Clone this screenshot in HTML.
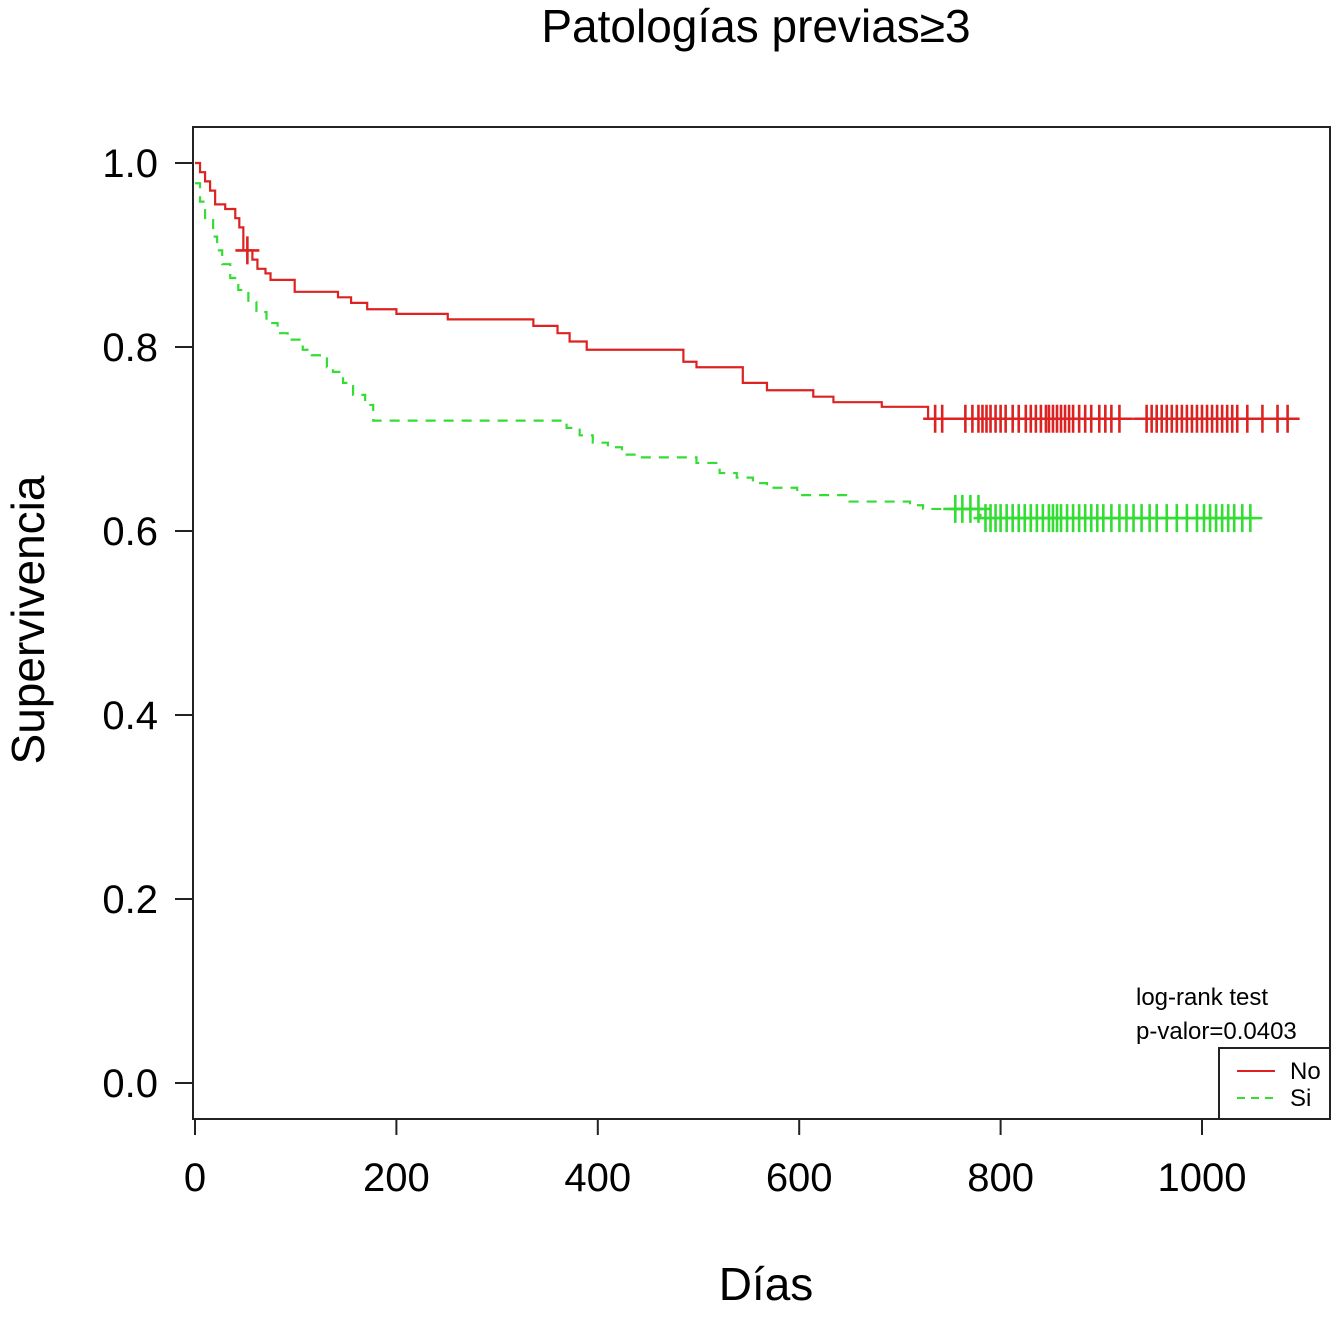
<!DOCTYPE html>
<html><head><meta charset="utf-8"><style>
body{margin:0;background:#fff}
svg text{font-family:"Liberation Sans",sans-serif;fill:#000}
</style></head><body>
<svg id="c" width="1339" height="1312">
<text x="756" y="42" font-size="46" text-anchor="middle">Patologías previas≥3</text>
<rect x="193" y="127" width="1137" height="992" fill="none" stroke="#222" stroke-width="2"/>
<text transform="translate(44,620) rotate(-90)" font-size="46" text-anchor="middle">Supervivencia</text>
<text x="766" y="1300" font-size="46" text-anchor="middle">Días</text>
<g id="axes"></g>
<g id="marks"></g>
<text x="1136" y="1005" font-size="24">log-rank test</text>
<text x="1136" y="1039" font-size="24">p-valor=0.0403</text>
<g>
<rect x="1219" y="1048" width="111" height="71" fill="#fff" stroke="#222" stroke-width="2"/>
<line x1="1237" y1="1071" x2="1275" y2="1071" stroke="#e02020" stroke-width="2"/>
<text x="1290" y="1079" font-size="24">No</text>
<line x1="1237" y1="1098" x2="1275" y2="1098" stroke="#33dd33" stroke-width="2" stroke-dasharray="8,6"/>
<text x="1290" y="1106" font-size="24">Si</text>
</g>
</svg>
<script>
const xTicks=[0,200,400,600,800,1000];
const yTicks=[0.0,0.2,0.4,0.6,0.8,1.0];
const noTimes=[0,5,10,15,20,30,40,44,48,57,62,70,75,99,142,155,171,200,251,336,360,372,389,485,498,544,568,614,634,682,728];
const noSurv=[1.0,0.99,0.98,0.97,0.955,0.95,0.94,0.93,0.905,0.895,0.885,0.88,0.873,0.86,0.854,0.848,0.841,0.836,0.83,0.823,0.815,0.806,0.797,0.784,0.778,0.761,0.753,0.746,0.74,0.735,0.722];
const noEnd=1090;
const noCens=[52,735,742,765,772,778,782,786,790,795,800,805,812,818,825,830,835,840,845,848,852,856,860,864,868,872,878,884,890,898,904,910,918,945,950,955,960,965,970,975,980,985,990,995,1000,1005,1010,1015,1020,1025,1030,1035,1045,1060,1075,1085];
const siTimes=[0,5,10,18,22,27,35,43,53,61,71,82,92,107,116,131,137,147,157,169,177,369,382,395,410,424,439,498,521,538,554,568,598,650,710,723,780];
const siSurv=[0.978,0.958,0.938,0.92,0.905,0.89,0.875,0.862,0.849,0.838,0.826,0.815,0.808,0.797,0.791,0.778,0.773,0.761,0.748,0.737,0.72,0.712,0.704,0.696,0.691,0.683,0.68,0.674,0.663,0.658,0.652,0.647,0.639,0.632,0.628,0.624,0.614];
const siEnd=1055;
const siCens=[755,762,770,778,785,790,795,800,806,812,818,824,830,836,842,848,852,856,860,866,872,878,884,890,896,902,910,918,925,932,940,948,955,965,975,985,995,1002,1008,1014,1020,1026,1032,1040,1048];
const X=t=>195+t*1.007, Y=s=>1083-s*920;
const NS="http://www.w3.org/2000/svg";
function mk(tag,attrs,parent){const e=document.createElementNS(NS,tag);for(const k in attrs)e.setAttribute(k,attrs[k]);parent.appendChild(e);return e;}
const ax=document.getElementById('axes'),mg=document.getElementById('marks');
xTicks.forEach(v=>{
 const l=mk('line',{x1:X(v),x2:X(v),y1:1119,y2:1135,stroke:'#222','stroke-width':2},ax);
 
 
 const t=mk('text',{x:X(v),y:1191,'font-size':40,'text-anchor':'middle'},ax);t.textContent=v;
 
 
});
yTicks.forEach(v=>{
 const l=mk('line',{x1:175,x2:193,y1:Y(v),y2:Y(v),stroke:'#222','stroke-width':2},ax);
 
 
 const t=mk('text',{x:158,y:Y(v)+14,'font-size':40,'text-anchor':'end'},ax);t.textContent=v.toFixed(1);
 
 
});
function stepPath(ts,ss,end){let d=`M${X(ts[0])},${Y(ss[0])}`;for(let i=1;i<ts.length;i++){d+=`H${X(ts[i])}V${Y(ss[i])}`;}d+=`H${X(end)}`;return d;}
function survAt(ts,ss,t){let s=ss[0];for(let i=0;i<ts.length;i++)if(ts[i]<=t)s=ss[i];return s;}
function draw(ts,ss,end,cens,col,dash,name){
 const p=mk('path',{d:stepPath(ts,ss,end),fill:'none',stroke:col,'stroke-width':2.2},mg);
 if(dash)p.setAttribute('stroke-dasharray',dash);
 
 
 cens.forEach(c=>{const y=Y(survAt(ts,ss,c));
  const m=mk('path',{d:`M${X(c)},${y-14}V${y+14}M${X(c)-12},${y}H${X(c)+12}`,stroke:col,'stroke-width':2.6,fill:'none'},mg);
  
  
 });
}
draw(siTimes,siSurv,siEnd,siCens,'#33dd33','10,8','si');
draw(noTimes,noSurv,noEnd,noCens,'#dd2222',null,'no');
</script>
</body></html>
